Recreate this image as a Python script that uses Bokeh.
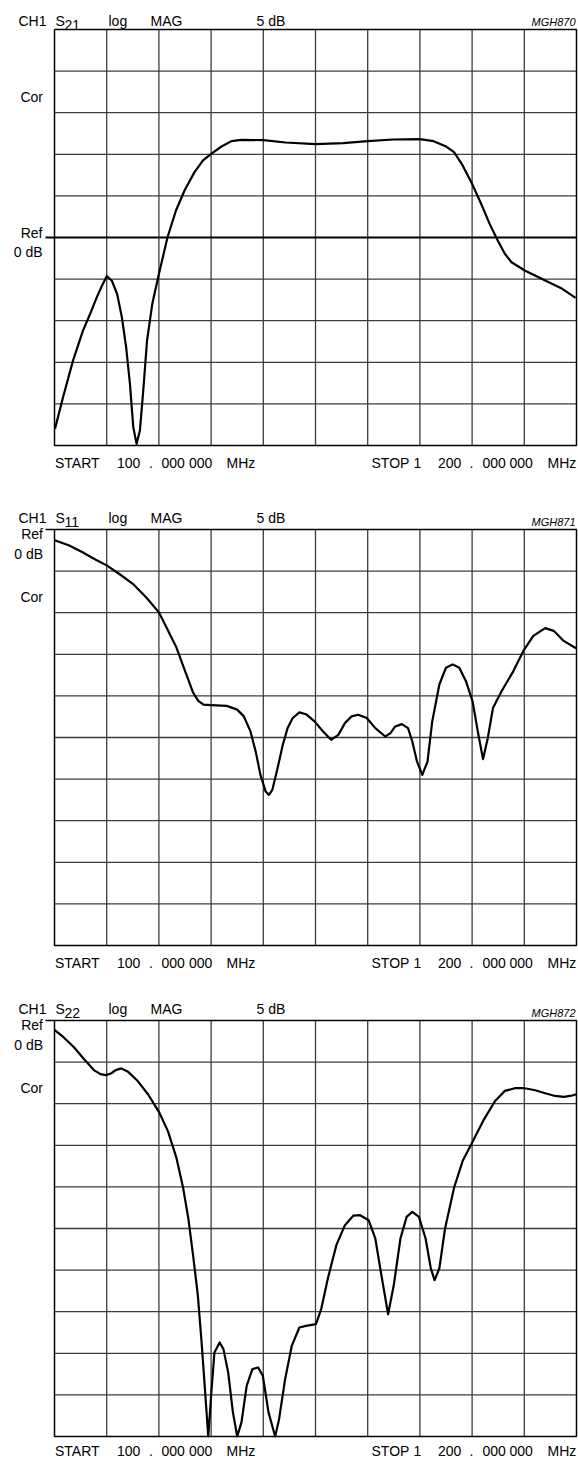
from bokeh.embed import file_html
from bokeh.layouts import column
from bokeh.models import Label, Range1d
from bokeh.plotting import figure
from bokeh.resources import INLINE

FONT = "Liberation Sans"
GRID = "#3c3c3c"

# sweep 100 MHz .. 1200 MHz, 10 divisions; 5 dB per division
freq_divisions = [100, 210, 320, 430, 540, 650, 760, 870, 980, 1090, 1200]
s21_divisions = [25, 20, 15, 10, 5, 0, -5, -10, -15, -20, -25]
refl_divisions = [0, -5, -10, -15, -20, -25, -30, -35, -40, -45, -50]

# S21 transmission (dB)
s21_freq = [101, 118, 139, 160, 175, 189, 200, 210, 221, 232, 242, 251, 259, 266, 273, 280,
            287, 295, 306, 320, 338, 356, 374, 395, 413, 430, 452, 473, 494, 540, 587, 650,
            708, 760, 814, 870, 899, 924, 942, 960, 980, 999, 1017, 1034, 1049, 1063, 1091,
            1134, 1170, 1198]
s21_db = [-23.0, -19.2, -14.8, -11.2, -9.2, -7.2, -5.8, -4.65, -5.2, -6.8, -9.6, -13.2, -17.6, -22.8, -24.8, -23.2,
          -18.4, -12.4, -8.0, -4.4, 0.0, 3.25, 5.65, 7.86, 9.26, 10.06, 10.94, 11.58, 11.74, 11.7, 11.42, 11.22,
          11.34, 11.58, 11.78, 11.82, 11.58, 10.98, 10.26, 8.66, 6.45, 4.05, 1.64, -0.36, -1.96, -2.97, -3.97,
          -5.17, -6.17, -7.25]

# S11 input reflection (dB)
s11_freq = [100, 130, 158, 187, 210, 236, 265, 293, 320, 336, 357, 375, 392, 403, 414, 430, 463, 485,
            499, 513, 524, 534, 545, 552, 559, 570, 581, 591, 602, 616, 630, 648, 666, 683, 698, 712,
            726, 740, 758, 776, 797, 808, 818, 832, 845, 854, 864, 875, 886, 896, 911, 925, 939, 953,
            967, 981, 992, 1003, 1013, 1024, 1042, 1067, 1088, 1109, 1134, 1152, 1173, 1199]
s11_db = [-1.29, -1.9, -2.7, -3.63, -4.31, -5.32, -6.53, -8.15, -9.96, -11.77, -14.19, -17.0, -19.6, -20.6, -21.05, -21.1, -21.2, -21.65,
          -22.46, -24.27, -26.7, -29.5, -31.5, -31.9, -31.3, -28.7, -25.9, -23.9, -22.66, -21.98, -22.2, -23.06, -24.27, -25.28, -24.68, -23.27,
          -22.46, -22.26, -22.66, -23.87, -24.88, -24.48, -23.67, -23.39, -23.87, -25.48, -27.9, -29.5, -27.9, -23.06, -18.63, -16.61, -16.21, -16.61,
          -18.23, -20.65, -24.27, -27.6, -25.08, -21.45, -19.44, -17.02, -14.6, -12.78, -11.85, -12.18, -13.39, -14.27]

# S22 output reflection (dB)
s22_freq = [100, 119, 141, 162, 183, 197, 208, 219, 229, 241, 254, 275, 297, 321, 339, 357, 371, 382,
            392, 402, 410, 417, 424, 430, 437, 448, 456, 466, 476, 485, 494, 505, 517, 529, 539, 551,
            565, 573, 586, 600, 616, 630, 651, 662, 676, 694, 712, 730, 744, 762, 776, 790, 803, 815,
            829, 842, 854, 868, 882, 893, 901, 911, 923, 942, 960, 978, 1003, 1028, 1049, 1070, 1091,
            1113, 1134, 1155, 1173, 1187, 1200]
s22_db = [-1.13, -2.01, -3.22, -4.63, -5.96, -6.45, -6.57, -6.37, -5.96, -5.76, -6.12, -7.25, -8.86, -11.08, -13.3, -16.52, -20.1, -23.8,
          -28.2, -33.0, -38.7, -44.3, -50.0, -45.1, -39.9, -38.7, -39.5, -42.3, -47.1, -50.0, -48.3, -43.9, -41.9, -41.7, -42.7, -47.1,
          -50.0, -48.0, -43.1, -39.1, -36.9, -36.7, -36.5, -34.7, -31.0, -27.0, -24.6, -23.45, -23.4, -24.0, -26.2, -31.0, -35.3, -31.8,
          -26.2, -23.6, -23.0, -23.6, -26.2, -29.8, -31.2, -29.8, -25.0, -20.1, -16.9, -14.9, -12.1, -9.7, -8.46, -8.14, -8.14,
          -8.38, -8.74, -9.07, -9.19, -9.07, -8.86]

header_words = [("CH1", 18), ("log", 108), ("MAG", 150), ("5 dB", 256)]
start_words = [("START", 54.5), ("100", 116.5), (".", 148.5), ("000", 161), ("000", 188.5), ("MHz", 226)]
stop_words = [("STOP", 371), ("1", 413), ("200", 437.5), (".", 469), ("000", 482), ("000", 509), ("MHz", 547)]

W = 578
LEFT, FRAME_W, TOP, FRAME_H = 54, 522, 29, 416


def make_panel(sub, tag, freq, db, divisions, ref_db, height, header_gap, ref_mid, foot_gap):
    db_top, db_bot = divisions[0], divisions[-1]
    f0, f1 = freq_divisions[0], freq_divisions[-1]

    def X(px):
        return f0 + (px - LEFT) * (f1 - f0) / FRAME_W

    def Y(py):
        return db_top - (py - TOP) * (db_top - db_bot) / FRAME_H

    # the plot frame spans the whole figure; the graticule is drawn as data
    p = figure(width=W, height=height,
               x_range=Range1d(X(0), X(W)), y_range=Range1d(Y(height), Y(0)),
               min_border=0, x_axis_location=None, y_axis_location=None,
               output_backend="svg", toolbar_location=None,
               background_fill_color="white", border_fill_color="white",
               outline_line_color=None)
    p.grid.visible = False

    inner_f = freq_divisions[1:-1]
    p.segment(x0=inner_f, y0=[db_bot] * len(inner_f), x1=inner_f, y1=[db_top] * len(inner_f),
              line_color=GRID, line_width=1.3)
    inner_d = [d for d in divisions[1:-1] if not (ref_mid and d == ref_db)]
    p.segment(x0=[f0] * len(inner_d), y0=inner_d, x1=[f1] * len(inner_d), y1=inner_d,
              line_color=GRID, line_width=1.3)

    # reference level line with its marker reaching left of the graticule
    if ref_mid:
        p.segment(x0=[X(45)], y0=[ref_db], x1=[f1], y1=[ref_db], line_color="black", line_width=2)
    else:
        p.segment(x0=[X(45)], y0=[ref_db], x1=[f0], y1=[ref_db], line_color="black", line_width=1.3)

    # graticule border
    p.line(x=[f0, f1, f1, f0, f0], y=[db_top, db_top, db_bot, db_bot, db_top],
           line_color="black", line_width=1.5)

    p.line(freq, db, line_color="black", line_width=2.2, line_join="round")

    def txt(s, px, py, size=14, align="left", style="normal"):
        p.add_layout(Label(x=X(px), y=Y(py), text=s, text_font=FONT,
                           text_font_size=f"{size}px", text_align=align,
                           text_baseline="alphabetic", text_font_style=style,
                           text_color="black"))

    hb = TOP - header_gap
    for word, px in header_words:
        txt(word, px, hb)
    txt("S", 55, hb)
    txt(sub, 64, hb + 4.5)
    txt(tag, 575, TOP - 8, size=11, align="right", style="italic")

    ref_py = TOP + (db_top - ref_db) * FRAME_H / (db_top - db_bot)
    if ref_mid:
        txt("Ref", 42, ref_py - 5, align="right")
        txt("0 dB", 42, ref_py + 14, align="right")
    else:
        txt("Ref", 42.5, ref_py + 4.5, align="right")
        txt("0 dB", 42.5, ref_py + 24, align="right")
    txt("Cor", 42.5, TOP + 1.5 * FRAME_H / 10 + 5.5, align="right")

    bb = TOP + FRAME_H + foot_gap
    for word, px in start_words + stop_words:
        txt(word, px, bb)
    return p


p1 = make_panel("21", "MGH870", s21_freq, s21_db, s21_divisions, 0, 500, 9, True, 17)
p2 = make_panel("11", "MGH871", s11_freq, s11_db, refl_divisions, 0, 491, 12, False, 17)
p3 = make_panel("22", "MGH872", s22_freq, s22_db, refl_divisions, 0, 467, 12, False, 14)

page = column(p1, p2, p3, spacing=0)
open("out.html", "w").write(file_html(page, INLINE, title="S-parameters"))
